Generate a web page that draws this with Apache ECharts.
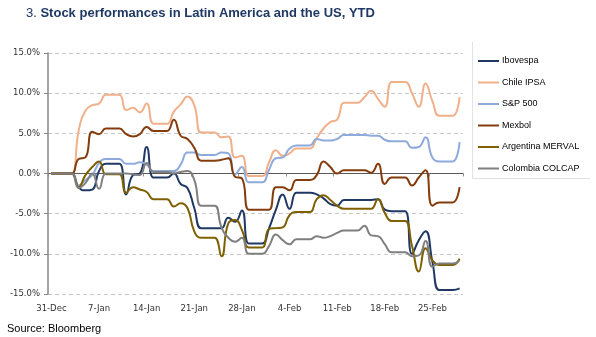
<!DOCTYPE html>
<html>
<head>
<meta charset="utf-8">
<script src="https://cdn.jsdelivr.net/npm/echarts@6/dist/echarts.min.js"></script>
<style>
  html, body { margin: 0; padding: 0; background: #ffffff; }
  #chart { width: 596px; height: 337px; }
</style>
</head>
<body>
<div id="chart"></div>
<script>
// Daily calendar dates, 31-Dec-2020 to 1-Mar-2021 (non-trading days carry the last close)
const dates = [
  '31-Dec','1-Jan','2-Jan','3-Jan','4-Jan','5-Jan','6-Jan','7-Jan','8-Jan','9-Jan','10-Jan',
  '11-Jan','12-Jan','13-Jan','14-Jan','15-Jan','16-Jan','17-Jan','18-Jan','19-Jan','20-Jan',
  '21-Jan','22-Jan','23-Jan','24-Jan','25-Jan','26-Jan','27-Jan','28-Jan','29-Jan','30-Jan',
  '31-Jan','1-Feb','2-Feb','3-Feb','4-Feb','5-Feb','6-Feb','7-Feb','8-Feb','9-Feb',
  '10-Feb','11-Feb','12-Feb','13-Feb','14-Feb','15-Feb','16-Feb','17-Feb','18-Feb','19-Feb',
  '20-Feb','21-Feb','22-Feb','23-Feb','24-Feb','25-Feb','26-Feb','27-Feb','28-Feb','1-Mar'
];

// Year-to-date performance, %
const ibovespa = [0,0,0,0,-1.7,-2.1,-2.0,0.3,1.2,1.2,1.2,-2.6,-0.2,0.0,3.3,-0.5,-0.5,-0.5,0.0,-1.3,-1.8,-4.3,-6.8,-6.8,-6.8,-6.8,-5.5,-6.0,-4.6,-8.7,-8.7,-8.7,-6.8,-4.5,-2.6,-4.4,-2.4,-2.4,-2.4,-2.6,-3.1,-3.8,-4.0,-3.3,-3.3,-3.3,-3.3,-3.3,-3.2,-4.5,-4.7,-4.7,-4.7,-10.0,-8.3,-7.2,-11.0,-14.5,-14.5,-14.5,-14.3];
const chileIpsa = [0,0,0,0,5.3,7.8,8.5,8.7,9.8,9.8,9.8,7.9,8.2,7.6,8.7,6.2,6.2,6.2,7.7,8.6,9.6,8.5,5.1,5.1,5.1,4.5,4.6,2.0,2.2,-0.3,-0.3,-0.3,1.4,2.9,2.2,2.5,3.1,3.1,3.1,4.4,5.6,6.4,6.7,8.8,8.8,8.8,9.5,10.3,9.3,8.3,11.4,11.4,11.4,10.0,8.3,11.2,9.0,7.2,7.2,7.2,9.5];
const sp500 = [0,0,0,0,-1.5,-0.8,-0.2,1.3,1.8,1.8,1.8,1.2,1.2,1.4,1.1,0.3,0.3,0.3,0.3,1.1,2.6,2.6,2.3,2.3,2.3,2.6,2.5,-0.1,0.8,-1.1,-1.1,-1.1,0.5,1.9,2.0,3.1,3.5,3.5,3.5,4.3,4.1,4.1,4.3,4.8,4.8,4.8,4.8,4.7,4.7,4.2,4.0,4.0,4.0,3.2,3.3,4.5,2.0,1.5,1.5,1.5,3.9];
const mexbol = [0,0,0,0,1.8,2.0,5.2,4.9,5.6,5.6,5.6,4.9,4.6,4.9,5.8,5.3,5.3,5.3,6.7,4.7,4.3,3.2,1.6,1.6,1.6,1.7,1.9,-0.4,-0.6,-4.5,-4.5,-4.5,-4.5,-1.7,-1.7,-2.1,-0.8,-0.8,-0.8,-0.2,1.5,0.8,0.0,0.4,0.4,0.4,0.4,0.1,1.2,-1.3,-0.5,-0.5,-0.5,-1.5,-0.5,0.4,-4.0,-3.6,-3.6,-3.6,-1.7];
const merval = [0,0,0,0,-1.7,-0.2,0.8,1.5,-0.1,-0.1,-0.1,-2.4,-1.7,-2.0,-2.3,-3.2,-3.2,-3.2,-4.1,-3.7,-4.3,-7.2,-8.0,-8.0,-8.0,-10.3,-6.2,-5.8,-7.0,-9.2,-9.2,-9.2,-6.9,-6.8,-6.7,-5.2,-4.8,-4.8,-4.8,-3.2,-2.7,-3.3,-4.0,-4.4,-4.4,-4.4,-4.4,-4.4,-3.2,-4.9,-5.9,-5.9,-5.9,-9.0,-12.2,-9.3,-10.8,-11.4,-11.4,-11.4,-10.6];
const colcap = [0,0,0,0,-1.8,-1.2,0.0,-1.9,0.0,0.0,0.0,0.0,-0.1,-0.2,1.3,0.2,0.2,0.2,0.0,0.2,0.3,-0.8,-4.0,-4.0,-4.0,-6.7,-8.0,-8.5,-8.0,-10.0,-10.0,-10.0,-9.0,-7.6,-8.3,-8.8,-8.2,-8.2,-8.2,-7.8,-8.0,-7.8,-7.4,-7.1,-7.1,-7.1,-6.5,-7.7,-7.8,-8.8,-9.8,-9.8,-9.8,-10.3,-10.2,-8.4,-11.6,-11.2,-11.2,-11.2,-10.8];

const seriesNames = ['Ibovespa', 'Chile IPSA', 'S&P 500', 'Mexbol', 'Argentina MERVAL', 'Colombia COLCAP'];
const seriesData = [ibovespa, chileIpsa, sp500, mexbol, merval, colcap];
const seriesColors = ['#1f3864', '#f0b08a', '#8eaadb', '#843c0c', '#7f6000', '#7f7f7f'];

const yTicks = { min: -15, max: 15, step: 5 };

const chart = echarts.init(document.getElementById('chart'), null, { renderer: 'canvas' });

const axisFont = 'DejaVu Sans';

chart.setOption({
  animation: false,
  backgroundColor: '#ffffff',
  title: {
    left: 21,
    top: 2,
    text: '{n|3. }{t|Stock performances in Latin America and the US, YTD}',
    textStyle: {
      rich: {
        n: { fontFamily: 'Liberation Sans', fontSize: 13, fontWeight: 'normal', color: '#1f3864' },
        t: { fontFamily: 'Liberation Sans', fontSize: 13, fontWeight: 'bold', color: '#1f3864' }
      }
    }
  },
  grid: { left: 48, right: 133, top: 53, bottom: 43, containLabel: false },
  legend: {
    data: seriesNames,
    orient: 'vertical',
    left: 473,
    top: 50,
    icon: 'rect',
    itemWidth: 21,
    itemHeight: 2,
    itemGap: 9.5,
    textStyle: { fontFamily: 'Liberation Sans', fontSize: 9, color: '#000', lineHeight: 12, padding: [0, 0, 0, -2] }
  },
  graphic: [
    { type: 'line', shape: { x1: 472.5, y1: 42, x2: 472.5, y2: 178.5 }, style: { stroke: '#e2e2e2', lineWidth: 1 } },
    { type: 'line', shape: { x1: 472.5, y1: 178.5, x2: 590, y2: 178.5 }, style: { stroke: '#e2e2e2', lineWidth: 1 } },
    { type: 'text', left: 7, top: 323, style: { text: 'Source: Bloomberg', font: '11px "Liberation Sans"', fill: '#000' } }
  ],
  xAxis: [
    {
      type: 'category',
      data: dates,
      boundaryGap: true,
      position: 'bottom',
      axisLine: { show: false, onZero: false },
      axisTick: { show: false },
      splitLine: { show: false },
      axisLabel: { interval: 6, fontFamily: axisFont, fontSize: 8.5, color: '#333', margin: 10 }
    },
    {
      type: 'category',
      data: dates,
      boundaryGap: true,
      position: 'bottom',
      axisLine: { show: true, onZero: true, lineStyle: { color: '#595959', width: 1.2 } },
      axisTick: { show: true, interval: 6, length: 3, lineStyle: { color: '#8c8c8c' } },
      axisLabel: { show: false },
      splitLine: { show: false }
    }
  ],
  yAxis: {
    type: 'value',
    min: yTicks.min,
    max: yTicks.max,
    interval: yTicks.step,
    axisLine: { show: true, lineStyle: { color: '#868686', width: 1.5 } },
    axisTick: { show: true, length: 4, lineStyle: { color: '#868686' } },
    axisLabel: {
      formatter: v => v.toFixed(1) + '%',
      fontFamily: axisFont, fontSize: 8.5, color: '#333', margin: 8
    },
    splitLine: { show: true, lineStyle: { color: '#c8c8c8', width: 1, type: [4, 3] } }
  },
  series: seriesNames.map((name, i) => ({
    name: name,
    type: 'line',
    xAxisIndex: 0,
    data: seriesData[i],
    symbol: 'none',
    smooth: 0.5,
    lineStyle: { color: seriesColors[i], width: 2 },
    itemStyle: { color: seriesColors[i] }
  }))
});
</script>
</body>
</html>
